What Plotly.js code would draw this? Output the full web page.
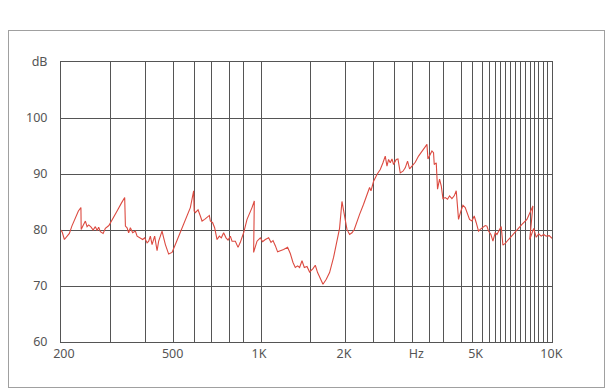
<!DOCTYPE html>
<html>
<head>
<meta charset="utf-8">
<script src="https://cdn.plot.ly/plotly-3.0.1.min.js"></script>
<style>
  html, body { margin: 0; padding: 0; background: #fff; }
  #wrap { position: relative; width: 610px; height: 391px; overflow: hidden; }
  #frame { position: absolute; left: 8px; top: 30px; width: 597px; height: 358px; box-sizing: border-box; border: 1.5px solid #a0a0a0; }
  #chart { position: absolute; left: 0; top: 0; width: 610px; height: 391px; }
</style>
</head>
<body>
<div id="wrap">
  <div id="frame"></div>
  <div id="chart"></div>
</div>
<script>
// Frequency (Hz) of each measured point
const freq = [200,202,205.5,209.6,213.8,218.1,224.3,229.7,234.4,234.9,238.5,242.9,246.2,249.4,254.2,258.3,263.0,266.6,270.0,273.7,279.7,284.8,292.9,301.1,312.7,323.6,332.2,334.1,338.6,342.9,347.6,354.0,361.7,366.7,376.4,383.4,389.5,397.1,402.2,407.6,413.2,421.8,430.0,435.5,441.4,447.4,453.2,459.4,471.6,484.5,497.4,517.6,538.6,560.5,575.5,577.8,583.3,596.0,607.0,615.3,628.2,640.3,652.1,657.3,669.5,680.2,693.4,706.2,717.5,730.8,744.9,756.9,770.9,781.4,802.2,819.6,834.7,856.9,880.5,916.2,933.2,928.0,953.5,978.8,996.9,1018.6,1045.7,1065.9,1083.0,1103.0,1123.4,1147.8,1178.4,1216.5,1243.0,1270.0,1293.4,1317.4,1338.5,1364.4,1389.6,1419.8,1449.5,1489.3,1516.8,1544.8,1578.4,1612.7,1655.7,1699.7,1754.5,1802.7,1840.4,1875.9,1910.6,1952.1,1993.4,2031.8,2069.4,2114.4,2158.6,2228.4,2289.6,2337.6,2363.8,2413.4,2479.4,2545.4,2600.6,2648.8,2685.0,2719.4,2756.6,2794.2,2830.0,2891.4,2930.8,2985.0,3049.8,3106.2,3163.6,3214.4,3276.6,3363.6,3453.2,3548.0,3692.2,3721.6,3769.4,3842.2,3891.4,3913.2,3976.0,4017.4,4082.0,4137.6,4194.0,4271.4,4350.4,4420.2,4505.6,4588.8,4662.6,4748.8,4840.4,4918.2,5009.0,5101.6,5183.6,5283.6,5381.2,5467.8,5568.8,5644.8,5767.4,5874.0,5954.2,6030.6,6146.8,6245.6,6361.2,6448.0,6582.8,6672.6,6763.6,6888.6,7072.2,7324.4,7561.6,7868.8,8188.2,8588.8,8372.6,8643.6,8817.6,8995.0,9175.8,9360.6,9548.8,9779.8,10000];

// Level (dB) at each point
const level = [80.0,79.6,78.3,78.8,79.4,80.7,82.2,83.4,84.0,80.1,80.8,81.6,80.6,80.9,80.5,80.0,80.6,79.9,80.5,79.7,79.4,80.3,80.8,81.8,83.4,84.8,85.8,80.7,80.4,79.5,80.4,79.5,79.8,78.9,78.6,78.3,78.6,77.7,78.0,78.9,77.4,78.9,76.3,78.0,78.9,79.8,78.6,77.4,75.7,76.0,77.4,79.5,81.9,84.0,87.0,83.4,83.1,83.6,82.5,81.6,81.9,82.2,82.6,81.6,81.3,80.4,78.3,78.9,78.6,79.5,78.6,78.2,78.9,78.0,78.0,76.9,77.8,79.5,81.9,84.0,85.2,76.0,78.0,78.6,77.9,78.3,78.6,77.8,78.1,77.2,76.1,76.3,76.5,76.9,75.8,74.2,73.3,73.6,73.3,74.5,73.3,73.5,72.5,73.1,73.7,72.4,71.3,70.3,71.2,72.4,75.1,78.2,80.3,85.1,82.8,80.1,79.2,79.5,80.1,81.6,82.8,84.6,86.4,87.6,87.0,88.7,89.9,90.8,92.0,93.2,91.4,92.6,92.0,92.7,91.7,92.6,92.7,90.2,90.5,91.1,92.3,90.9,91.4,92.1,93.2,94.1,95.3,92.7,93.3,94.1,93.8,91.7,92.0,87.3,89.1,87.9,85.6,85.8,85.5,86.1,85.6,86.1,87.0,81.9,83.4,84.4,84.0,82.8,81.9,81.6,82.5,81.3,79.8,80.1,80.4,80.8,80.7,79.8,79.2,78.0,79.5,79.2,80.1,80.6,77.3,77.6,78.3,79.2,80.1,81.0,81.9,84.3,78.3,80.3,78.7,79.3,78.9,79.2,78.9,79.0,78.5];

// Vertical grid lines of the chart (Hz)
const gridFreqs = [296,392,490,578,665,766,854,985,1459,1925,2409,2850,3279,3773,4220,4855,5314,5745,6075,6367,6650,6922,7187,7484,7770,8092,8398,8693,8992,9308,9630];

// X labels and where they sit (Hz)
const xLabelFreqs = [204.7,486.9,968.7,1907.5,3393,5441.6,9950];
const xLabels = ['200','500','1K','2K','Hz','5K','10K'];

// Y ticks
const yTickVals = [60,70,80,90,100,110];
const yTickText = ['60','70','80','90','100','dB'];

const gridColor = '#555555';
const labelFont = {family: 'Noto Sans, Liberation Sans, sans-serif', size: 12.5, color: '#555555'};

const trace = {
  x: freq, y: level, type: 'scatter', mode: 'lines',
  line: {color: '#dc4a40', width: 1.1},
  hoverinfo: 'skip', showlegend: false
};

const layout = {
  width: 610, height: 391,
  margin: {l: 61, r: 58, t: 62, b: 49, pad: 0},
  paper_bgcolor: 'rgba(0,0,0,0)',
  plot_bgcolor: '#ffffff',
  showlegend: false,
  xaxis: {
    type: 'log',
    range: [Math.log10(200), Math.log10(10000)],
    tickmode: 'array', tickvals: xLabelFreqs, ticktext: xLabels,
    showgrid: false, zeroline: false, ticks: '',
    showline: true, mirror: true, linecolor: gridColor, linewidth: 1,
    tickfont: labelFont,
    minor: {tickmode: 'array', tickvals: gridFreqs, showgrid: true, gridcolor: gridColor, gridwidth: 1, ticks: ''},
    fixedrange: true
  },
  yaxis: {
    range: [60, 110],
    tickmode: 'array', tickvals: yTickVals, ticktext: yTickText,
    showgrid: true, gridcolor: gridColor, gridwidth: 1, zeroline: false, ticks: '',
    showline: true, mirror: true, linecolor: gridColor, linewidth: 1,
    ticklabelstandoff: 10,
    tickfont: labelFont,
    fixedrange: true
  }
};

Plotly.newPlot('chart', [trace], layout, {staticPlot: true, displayModeBar: false});
</script>
</body>
</html>
